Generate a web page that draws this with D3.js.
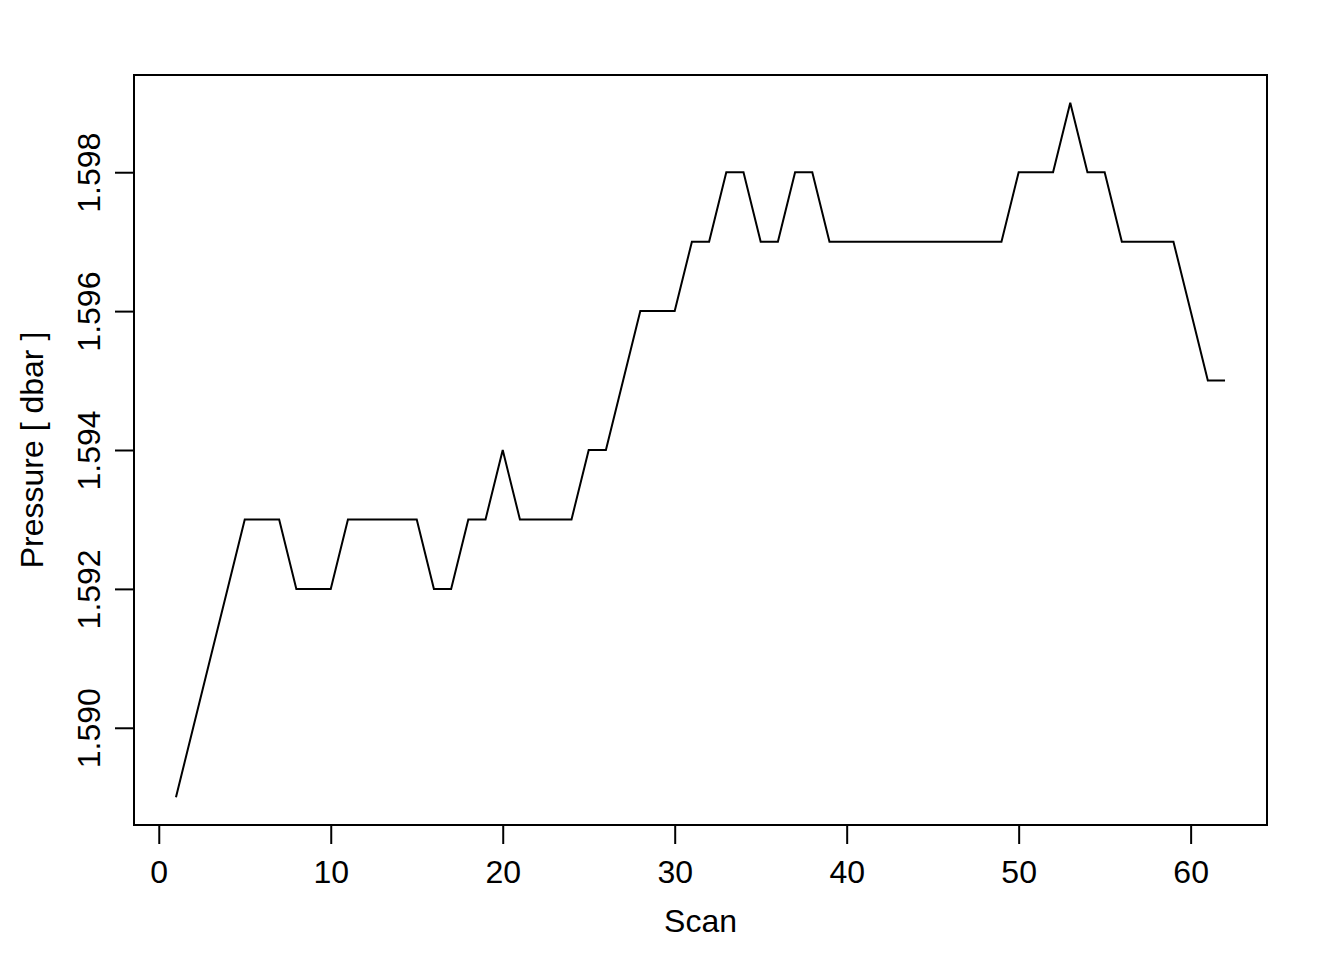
<!DOCTYPE html>
<html lang="en">
<head>
<meta charset="UTF-8">
<title>Pressure vs Scan</title>
<script src="https://d3js.org/d3.v7.min.js"></script>
<style>
  body { margin: 0; background: #fff; }
  svg { display: block; font-family: "Liberation Sans", Arial, Helvetica, sans-serif; }
</style>
</head>
<body>
<svg id="chart" width="1344" height="960"></svg>
<script>
// data (scan number, pressure in dbar)
var scans = d3.range(1, 63);
var pressure = [
  1.589, 1.590, 1.591, 1.592, 1.593, 1.593, 1.593, 1.592, 1.592, 1.592,
  1.593, 1.593, 1.593, 1.593, 1.593, 1.592, 1.592, 1.593, 1.593, 1.594,
  1.593, 1.593, 1.593, 1.593, 1.594, 1.594, 1.595, 1.596, 1.596, 1.596,
  1.597, 1.597, 1.598, 1.598, 1.597, 1.597, 1.598, 1.598, 1.597, 1.597,
  1.597, 1.597, 1.597, 1.597, 1.597, 1.597, 1.597, 1.597, 1.597, 1.598,
  1.598, 1.598, 1.599, 1.598, 1.598, 1.597, 1.597, 1.597, 1.597, 1.596,
  1.595, 1.595
];
var xTicks = [0, 10, 20, 30, 40, 50, 60];
var yTicks = [1.590, 1.592, 1.594, 1.596, 1.598];
var xTitle = "Scan";
var yTitle = "Pressure [ dbar ]";

var svg = d3.select("#chart");
var pl = 134, pr = 1267, pt = 75, pb = 825;
var fs = 32;

// R style 4% padding on the data range
var xe = d3.extent(scans), ye = d3.extent(pressure);
var xp = (xe[1] - xe[0]) * 0.04, yp = (ye[1] - ye[0]) * 0.04;
var x = d3.scaleLinear().domain([xe[0] - xp, xe[1] + xp]).range([pl, pr]);
var y = d3.scaleLinear().domain([ye[0] - yp, ye[1] + yp]).range([pb, pt]);

// x axis
var gx = svg.append("g")
  .attr("transform", "translate(0," + pb + ")")
  .call(d3.axisBottom(x).tickValues(xTicks).tickSize(19).tickFormat(d3.format("d")));
gx.select(".domain").remove();
gx.selectAll(".tick line").attr("stroke", "#000").attr("stroke-width", 2);
gx.selectAll(".tick text")
  .attr("y", 58).attr("dy", null)
  .attr("fill", "#000").attr("font-size", null).attr("font-family", null)
  .style("font-size", fs + "px");

// y axis
var gy = svg.append("g")
  .attr("transform", "translate(" + pl + ",0)")
  .call(d3.axisLeft(y).tickValues(yTicks).tickSize(19).tickFormat(d3.format(".3f")));
gy.select(".domain").remove();
gy.selectAll(".tick line").attr("stroke", "#000").attr("stroke-width", 2);
gy.selectAll(".tick text")
  .attr("x", null).attr("dy", null)
  .attr("transform", "translate(-34,0) rotate(-90)")
  .attr("text-anchor", "middle")
  .attr("fill", "#000").attr("font-size", null).attr("font-family", null)
  .style("font-size", fs + "px");

// box
svg.append("rect")
  .attr("x", pl).attr("y", pt)
  .attr("width", pr - pl).attr("height", pb - pt)
  .attr("fill", "none").attr("stroke", "#000").attr("stroke-width", 2);

// line
var line = d3.line()
  .x(function(d, i) { return x(scans[i]); })
  .y(function(d) { return y(d); });
svg.append("path")
  .datum(pressure)
  .attr("d", line)
  .attr("fill", "none")
  .attr("stroke", "#000")
  .attr("stroke-width", 2)
  .attr("stroke-linejoin", "miter");

// titles
svg.append("text")
  .attr("x", (pl + pr) / 2).attr("y", 932)
  .attr("text-anchor", "middle").style("font-size", fs + "px")
  .text(xTitle);
svg.append("text")
  .attr("transform", "translate(43," + (pt + pb) / 2 + ") rotate(-90)")
  .attr("text-anchor", "middle").style("font-size", fs + "px")
  .text(yTitle);
</script>
</body>
</html>
